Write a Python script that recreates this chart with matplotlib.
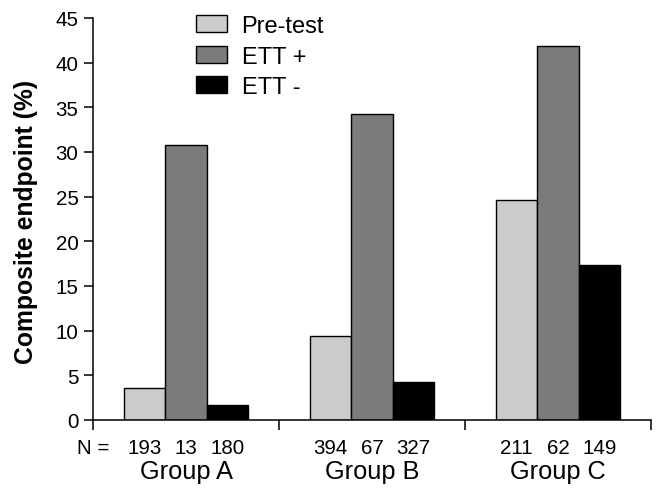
import matplotlib
matplotlib.use("Agg")
import matplotlib.pyplot as plt
import numpy as np

plt.rcParams['font.family'] = ['Liberation Sans', 'DejaVu Sans']

groups = ["Group A", "Group B", "Group C"]
series = ["Pre-test", "ETT +", "ETT -"]
pre_test = [3.6, 9.4, 24.6]
ett_pos = [30.8, 34.3, 41.9]
ett_neg = [1.7, 4.3, 17.4]
n_pre = [193, 394, 211]
n_pos = [13, 67, 62]
n_neg = [180, 327, 149]
colors = ["#cbcbcb", "#7b7b7b", "#000000"]
yticks = [0, 5, 10, 15, 20, 25, 30, 35, 40, 45]

fig = plt.figure(figsize=(6.59, 4.89), dpi=100)
ax = fig.add_axes([93/659, 1-421/489, 558/659, 402/489])

centers = np.arange(len(groups)) + 0.5
w = 0.222
offsets = [-w, 0, w]
values = [pre_test, ett_pos, ett_neg]
counts = [n_pre, n_pos, n_neg]
for vals, off, col, lab in zip(values, offsets, colors, series):
    ax.bar(centers + off, vals, width=w, color=col, edgecolor="black",
           linewidth=1.0, label=lab, zorder=2)

ax.set_xlim(0, 3)
ax.set_ylim(0, 45)
ax.set_yticks(yticks)
ax.set_xticks([0, 1, 2, 3])
ax.set_xticklabels([])
ax.spines['top'].set_visible(False)
ax.spines['right'].set_visible(False)
for s in ['left', 'bottom']:
    ax.spines[s].set_linewidth(1.1)
ax.tick_params(axis='y', direction='out', length=6.5, width=1.1,
               labelsize=14.8, pad=4)
ax.tick_params(axis='x', direction='out', length=7.2, width=1.1)

trans = ax.get_xaxis_transform()
for cnt, off in zip(counts, offsets):
    for c, n in zip(centers, cnt):
        ax.text(c + off, -0.068, str(n), transform=trans, ha='center',
                va='center', fontsize=14.8)
ax.text(0.0, -0.068, "N =", transform=trans, ha='center', va='center',
        fontsize=14.8)
for c, g in zip(centers, groups):
    ax.text(c, -0.127, g, transform=trans, ha='center', va='center',
            fontsize=18.3)

fig.text(26/659, 1-222/489, "Composite endpoint (%)", rotation=90,
         ha='center', va='center', fontsize=17.8, fontweight='bold')

leg = ax.legend(loc='upper left', bbox_to_anchor=(196/659, 1-16/489),
                bbox_transform=fig.transFigure, frameon=False,
                fontsize=17, handlelength=1.31, handleheight=0.72,
                labelspacing=0.36, handletextpad=0.62, borderpad=0,
                borderaxespad=0)

fig.savefig("out.png", dpi=100)
